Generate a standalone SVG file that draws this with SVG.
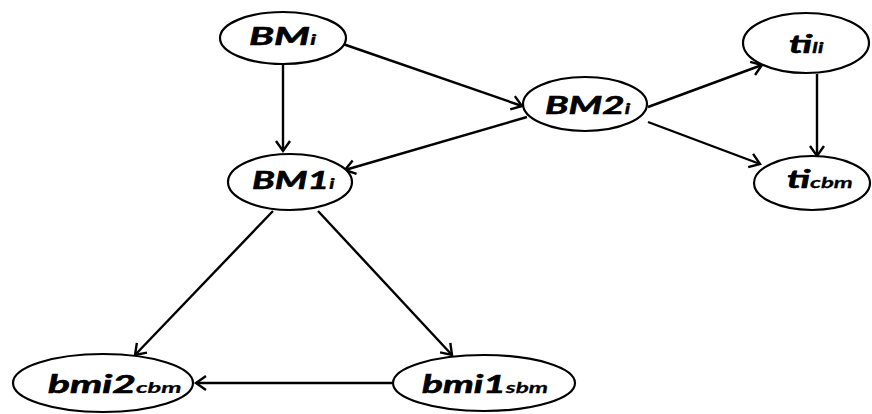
<svg xmlns="http://www.w3.org/2000/svg" width="872" height="414" viewBox="0 0 872 414">
  <style>
    .node ellipse { fill: #ffffff; stroke: #000000; stroke-width: 2.2; }
    .node text { font-family: Lato, "Open Sans", "Liberation Sans", sans-serif; font-weight: bold; font-style: italic; font-size: 24px; fill: #000000; stroke: #000000; stroke-width: 0.6; }
    .node .sub { font-size: 15px; stroke-width: 0.25; }
    .edges line { stroke: #000000; stroke-width: 2.4; fill: none; marker-end: url(#arrow); }
  </style>
  <defs>
    <marker id="arrow" markerUnits="userSpaceOnUse" markerWidth="14" markerHeight="16" refX="11" refY="8" orient="auto" overflow="visible">
      <path d="M1,1 L11,8 L1,15" fill="none" stroke="#000000" stroke-width="2.4"/>
    </marker>
  </defs>
  <rect width="872" height="414" fill="#ffffff"/>

  <g class="edges">
    <line x1="283" y1="64" x2="283" y2="151"/>
    <line x1="343" y1="44" x2="522" y2="106"/>
    <line x1="648" y1="107" x2="762" y2="65"/>
    <line x1="648" y1="122" x2="760" y2="164"/>
    <line x1="817" y1="74" x2="817" y2="156"/>
    <line x1="527" y1="117" x2="345" y2="170"/>
    <line x1="273" y1="211" x2="135" y2="355"/>
    <line x1="318" y1="211" x2="452" y2="355"/>
    <line x1="393" y1="383" x2="196" y2="383"/>
  </g>

  <g id="BMi" class="node">
    <ellipse cx="283" cy="38" rx="63" ry="26"/>
    <text transform="translate(249,45) scale(1.7,1)">BM<tspan class="sub">i</tspan></text>
  </g>
  <g id="BM2i" class="node">
    <ellipse cx="585" cy="104" rx="62" ry="27"/>
    <text transform="translate(545,114) scale(1.6,1)">BM2<tspan class="sub">i</tspan></text>
  </g>
  <g id="tili" class="node">
    <ellipse cx="806" cy="43" rx="63" ry="30"/>
    <text transform="translate(789,53) scale(1.6,1)">ti<tspan class="sub">li</tspan></text>
  </g>
  <g id="ticbm" class="node">
    <ellipse cx="812" cy="183" rx="58" ry="27"/>
    <text transform="translate(787,188) scale(1.6,1)">ti<tspan class="sub">cbm</tspan></text>
  </g>
  <g id="BM1i" class="node">
    <ellipse cx="290" cy="182" rx="62" ry="28"/>
    <text transform="translate(252,189) scale(1.55,1)">BM1<tspan class="sub">i</tspan></text>
  </g>
  <g id="bmi2cbm" class="node">
    <ellipse cx="103" cy="383" rx="90" ry="29"/>
    <text transform="translate(48,393) scale(1.7,1)">bmi2<tspan class="sub">cbm</tspan></text>
  </g>
  <g id="bmi1sbm" class="node">
    <ellipse cx="484" cy="383" rx="91" ry="28"/>
    <text transform="translate(422,393) scale(1.62,1)">bmi1<tspan class="sub">sbm</tspan></text>
  </g>
</svg>
